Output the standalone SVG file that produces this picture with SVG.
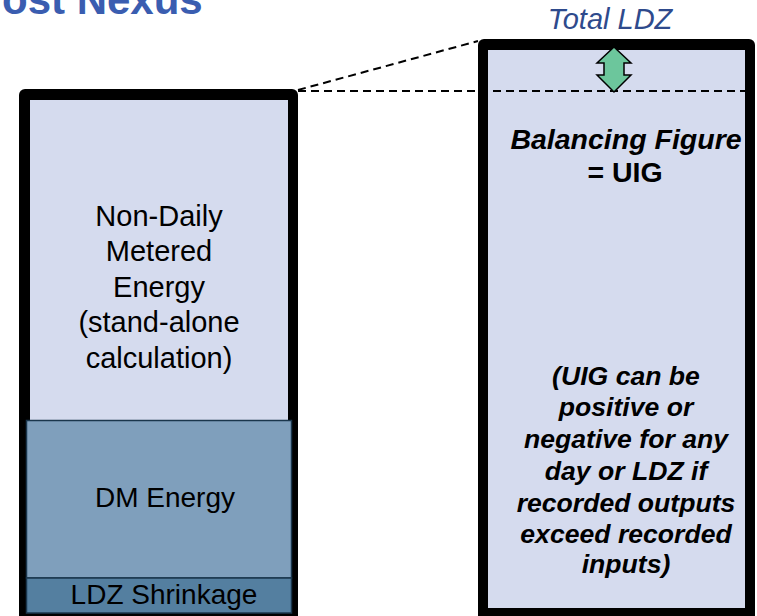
<svg xmlns="http://www.w3.org/2000/svg" width="757" height="616" viewBox="0 0 757 616">
<style>
text{font-family:"Liberation Sans",Arial,sans-serif;}
.lbl{font-size:28px;fill:#000;text-anchor:middle;}
.nd{font-size:29px;}
.bi{font-size:26.6px;font-weight:bold;font-style:italic;fill:#000;text-anchor:middle;}
.big{font-size:28.5px;}
.up{font-style:normal;}
.dash{stroke:#000;stroke-width:2;stroke-dasharray:8 5;fill:none;}
.frame{fill:#000;}
.light{fill:#d5dbee;}
</style>
<rect width="757" height="616" fill="#fff"/>
<g id="title">
<text x="2" y="14" font-size="42" font-weight="bold" fill="#3a5db0">ost Nexus</text>
</g>
<g id="left-column">
<rect class="frame" x="19" y="89" width="279" height="535" rx="6"/>
<rect class="light" x="30" y="100" width="258" height="320"/>
<g id="ndm">
<text class="lbl nd" x="159" y="226">Non-Daily</text>
<text class="lbl nd" x="159" y="261">Metered</text>
<text class="lbl nd" x="159" y="297">Energy</text>
<text class="lbl nd" x="159" y="332">(stand-alone</text>
<text class="lbl nd" x="159" y="368">calculation)</text>
</g>
<g id="dm">
<rect x="26.5" y="420.5" width="265" height="157.5" fill="#7f9fbc" stroke="#1a364c" stroke-width="1.5"/>
<text class="lbl" x="165" y="507">DM Energy</text>
</g>
<g id="shrinkage">
<rect x="26.5" y="578" width="265" height="35" fill="#547fa0" stroke="#1a364c" stroke-width="1.5"/>
<text class="lbl" x="164" y="604">LDZ Shrinkage</text>
</g>
</g>
<g id="right-column">
<rect class="frame" x="478" y="39" width="277" height="585" rx="6"/>
<rect class="light" x="488" y="50" width="257" height="558"/>
<text x="610" y="29" font-size="29" font-style="italic" fill="#2e4a8c" text-anchor="middle">Total LDZ</text>
<g id="balancing">
<text class="bi big" x="626" y="149">Balancing Figure</text>
<text class="bi big up" x="625" y="182">= UIG</text>
</g>
<g id="note">
<text class="bi" x="626" y="385">(UIG can be</text>
<text class="bi" x="626" y="416">positive or</text>
<text class="bi" x="626" y="448">negative for any</text>
<text class="bi" x="626" y="480">day or LDZ if</text>
<text class="bi" x="626" y="512">recorded outputs</text>
<text class="bi" x="626" y="543">exceed recorded</text>
<text class="bi" x="626" y="573">inputs)</text>
</g>
</g>
<g id="connectors">
<line class="dash" x1="298" y1="91" x2="748" y2="91"/>
<line class="dash" x1="298" y1="90" x2="478" y2="41"/>
<polygon id="double-arrow" points="614,47 631,63 624,63 624,75 631,75 614,92 597,75 604,75 604,63 597,63" fill="#6cc69c" stroke="#000" stroke-width="1.5" stroke-linejoin="miter"/>
</g>
</svg>
